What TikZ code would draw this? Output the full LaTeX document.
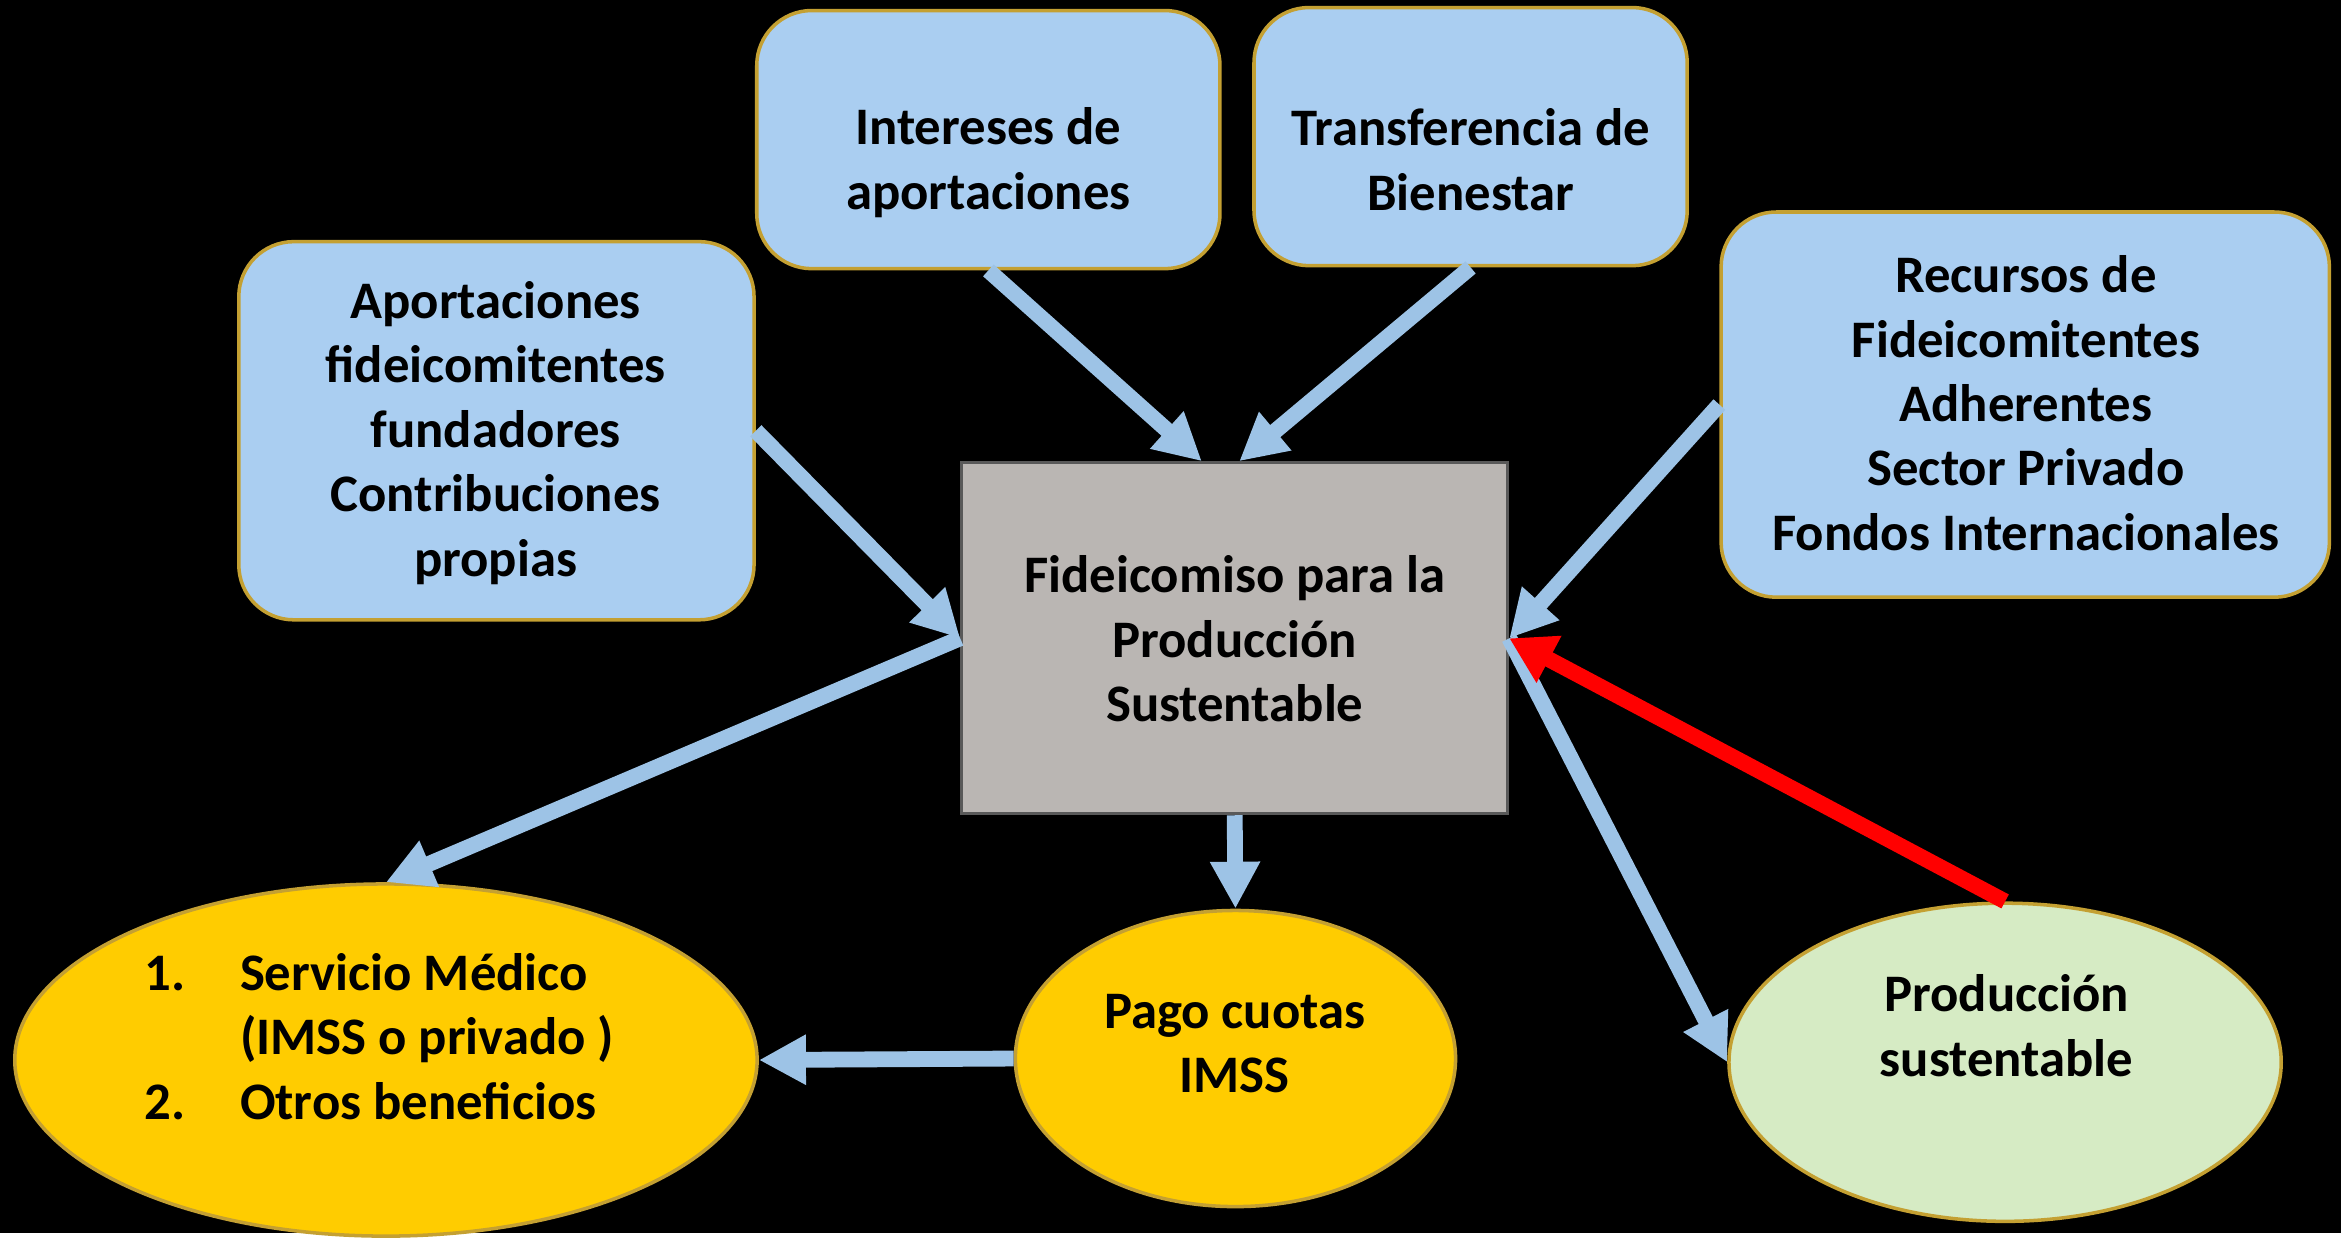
\documentclass[tikz,border=0pt]{standalone}
\usepackage{fontspec}
\setmainfont{Carlito}
\usetikzlibrary{arrows.meta,shapes.geometric,calc}

\definecolor{azul}{RGB}{170,206,241}
\definecolor{flecha}{RGB}{157,195,230}
\definecolor{gris}{RGB}{186,182,179}
\definecolor{oro}{RGB}{255,204,0}
\definecolor{verde}{RGB}{214,235,196}
\definecolor{borde}{RGB}{196,160,50}

\begin{document}
\begin{tikzpicture}[x=0.01493cm,y=-0.01493cm,
	fuente/.style={rectangle, rounded corners=0.55cm, draw=borde, line width=1pt, fill=azul, inner sep=0pt},
	centro/.style={rectangle, draw=gray!70!black, line width=0.8pt, fill=gris, inner sep=0pt},
	globo/.style={ellipse, draw=borde, line width=1pt, inner sep=0pt},
	texto/.style={align=center, text=black, font=\bfseries\fontsize{15}{18.3}\selectfont},
	flujo/.style={draw=flecha, line width=4.5pt, -{Triangle[length=0.47cm,width=0.47cm]}},
	retorno/.style={draw=red, line width=4.5pt, -{Triangle[length=0.45cm,width=0.5cm]}}]
	\fill[black] (0,0) rectangle (1568,826);
	\node[fuente, minimum width=5.15cm, minimum height=3.78cm] (aport) at (332.5,288.5) {};
	\node[fuente, minimum width=4.63cm, minimum height=2.58cm] (inter) at (662,93.5) {};
	\node[fuente, minimum width=4.33cm, minimum height=2.58cm] (trans) at (985,91.5) {};
	\node[fuente, minimum width=6.08cm, minimum height=3.85cm] (recur) at (1356.5,271) {};
	\node[centro, minimum width=5.46cm, minimum height=3.51cm] (fid) at (827,427.5) {};
	\node[globo, fill=oro, minimum width=7.42cm, minimum height=3.52cm] (serv) at (258.5,710) {};
	\node[globo, fill=oro, minimum width=4.40cm, minimum height=2.96cm] (pago) at (827.5,709) {};
	\node[globo, fill=verde, minimum width=5.52cm, minimum height=3.18cm] (prod) at (1343,711.5) {};

	\node[texto] (aport-t) at (332,290) {Aportaciones\\fideicomitentes\\fundadores\\Contribuciones\\propias};
	\node[texto] (inter-t) at (662,109) {Intereses de\\aportaciones};
	\node[texto] (trans-t) at (985,107) {Transferencia de\\Bienestar};
	\node[texto] (recur-t) at (1357,270) {Recursos de\\Fideicomitentes\\Adherentes\\Sector Privado\\Fondos Internacionales};
	\node[texto] (fid-t) at (827,428) {Fideicomiso para la\\Producción\\Sustentable};
	\node[texto] (serv-t) at (254,698) {\begin{tabular}{@{}p{0.955cm}@{}l@{}}
		1. & Servicio Médico\\
		   & (IMSS o privado )\\
		2. & Otros beneficios
	\end{tabular}};
	\node[texto] (pago-t) at (827,699) {Pago cuotas\\IMSS};
	\node[texto] (prod-t) at (1344,687) {Producción\\sustentable};

	\draw[flujo] (aport.east) -- (fid.west);
	\draw[flujo] (inter.south) -- ($(fid.north)+(-22,0)$);
	\draw[flujo] (trans.south) -- ($(fid.north)+(3,0)$);
	\draw[flujo] (recur.west) -- (fid.east);
	\draw[flujo] (fid.west) -- (serv.north);
	\draw[flujo] (fid.south) -- (pago.north);
	\draw[flujo] (pago.west) -- (serv.east);
	\draw[flujo] (fid.east) -- (prod.west);
	\draw[retorno] (prod.north) -- (fid.east);
\end{tikzpicture}
\end{document}
